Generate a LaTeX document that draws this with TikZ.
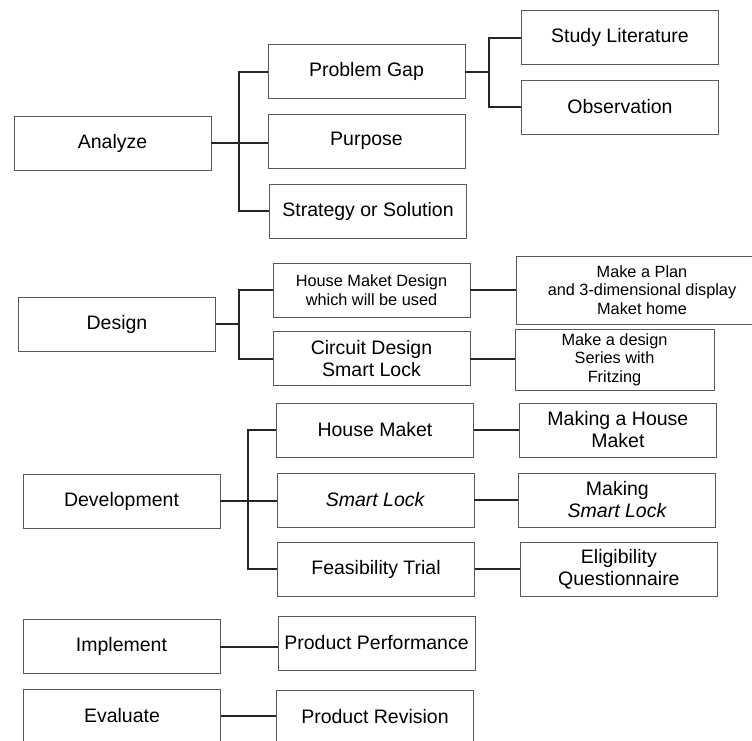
\documentclass[tikz,border=0pt]{standalone}
\usepackage{fontspec}
\setmainfont{Liberation Sans}
\usepackage{tikz}
\usetikzlibrary{positioning}

\begin{document}
\begin{tikzpicture}[
        x=1pt, y=-1pt,
        box/.style={draw=black!65, line width=0.9pt, minimum width=197pt, minimum height=54pt,
            inner sep=0pt, align=center, font=\fontsize{19.5}{22}\selectfont},
        smallbox/.style={box, font=\fontsize{16.3}{18.5}\selectfont},
        edge/.style={draw=black!85, line width=2pt}
    ]
        \useasboundingbox (0,0) rectangle (752,740);
        \clip (0,0) rectangle (752,740);

        % Nodes
        \node[box] (analyze) at (112.5,143) {Analyze};
        \node[box] (gap) at (366.5,71.5) {Problem Gap};
        \node[box] (purpose) at (366.5,141) {Purpose};
        \node[box] (strategy) at (368,211) {Strategy or Solution};
        \node[box] (study) at (620,37.5) {Study Literature};
        \node[box] (observe) at (620,107) {Observation};

        \node[box] (design) at (117,324) {Design};
        \node[smallbox] (housedesign) at (371.5,290) {House Maket Design\\which will be used};
        \node[box] (circuit) at (371.5,358.5) {Circuit Design\\Smart Lock};
        \node[smallbox, minimum width=252pt, minimum height=68pt] (plan) at (642,290)
            {Make a Plan\\and 3-dimensional display\\Maket home};
        \node[smallbox, minimum width=199pt, minimum height=61pt] (series) at (614.5,359.5)
            {Make a design\\Series with\\Fritzing};

        \node[box] (develop) at (121.5,501) {Development};
        \node[box] (housemaket) at (375,430) {House Maket};
        \node[box] (smartlock) at (375.5,500) {\textit{Smart Lock}};
        \node[box] (trial) at (376,569) {Feasibility Trial};
        \node[box, right=45pt of housemaket] (makehouse) {Making a House\\Maket};
        \node[box, right=44pt of smartlock] (makelock) {Making\\\textit{Smart Lock}};
        \node[box, right=45pt of trial] (questionnaire) {Eligibility\\Questionnaire};

        \node[box] (implement) at (121.5,646.5) {Implement};
        \node[box] (performance) at (376.5,643) {Product Performance};
        \node[box] (evaluate) at (122,716) {Evaluate};
        \node[box] (revision) at (375,717) {Product Revision};

        % Edges
        \draw[edge] (analyze.east) -- ++(28,0) |- (gap.west);
        \draw[edge] (analyze.east) -- ++(28,0) |- (strategy.west);
        \draw[edge] (analyze.east) -- (analyze.east -| purpose.west);
        \draw[edge] (gap.east) -- ++(24,0) |- (study.west);
        \draw[edge] (gap.east) -- ++(24,0) |- (observe.west);

        \draw[edge] (design.east) -- ++(23,0) |- (housedesign.west);
        \draw[edge] (design.east) -- ++(23,0) |- (circuit.west);
        \draw[edge] (housedesign.east) -- (housedesign.east -| plan.west);
        \draw[edge] (circuit.east) -- (circuit.east -| series.west);

        \draw[edge] (develop.east) -- ++(28,0) |- (housemaket.west);
        \draw[edge] (develop.east) -- ++(28,0) |- (trial.west);
        \draw[edge] (develop.east) -- (develop.east -| smartlock.west);
        \draw[edge] (housemaket.east) -- (makehouse.west);
        \draw[edge] (smartlock.east) -- (makelock.west);
        \draw[edge] (trial.east) -- (questionnaire.west);

        \draw[edge] (implement.east) -- (implement.east -| performance.west);
        \draw[edge] (evaluate.east) -- (evaluate.east -| revision.west);
    \end{tikzpicture}
\end{document}
